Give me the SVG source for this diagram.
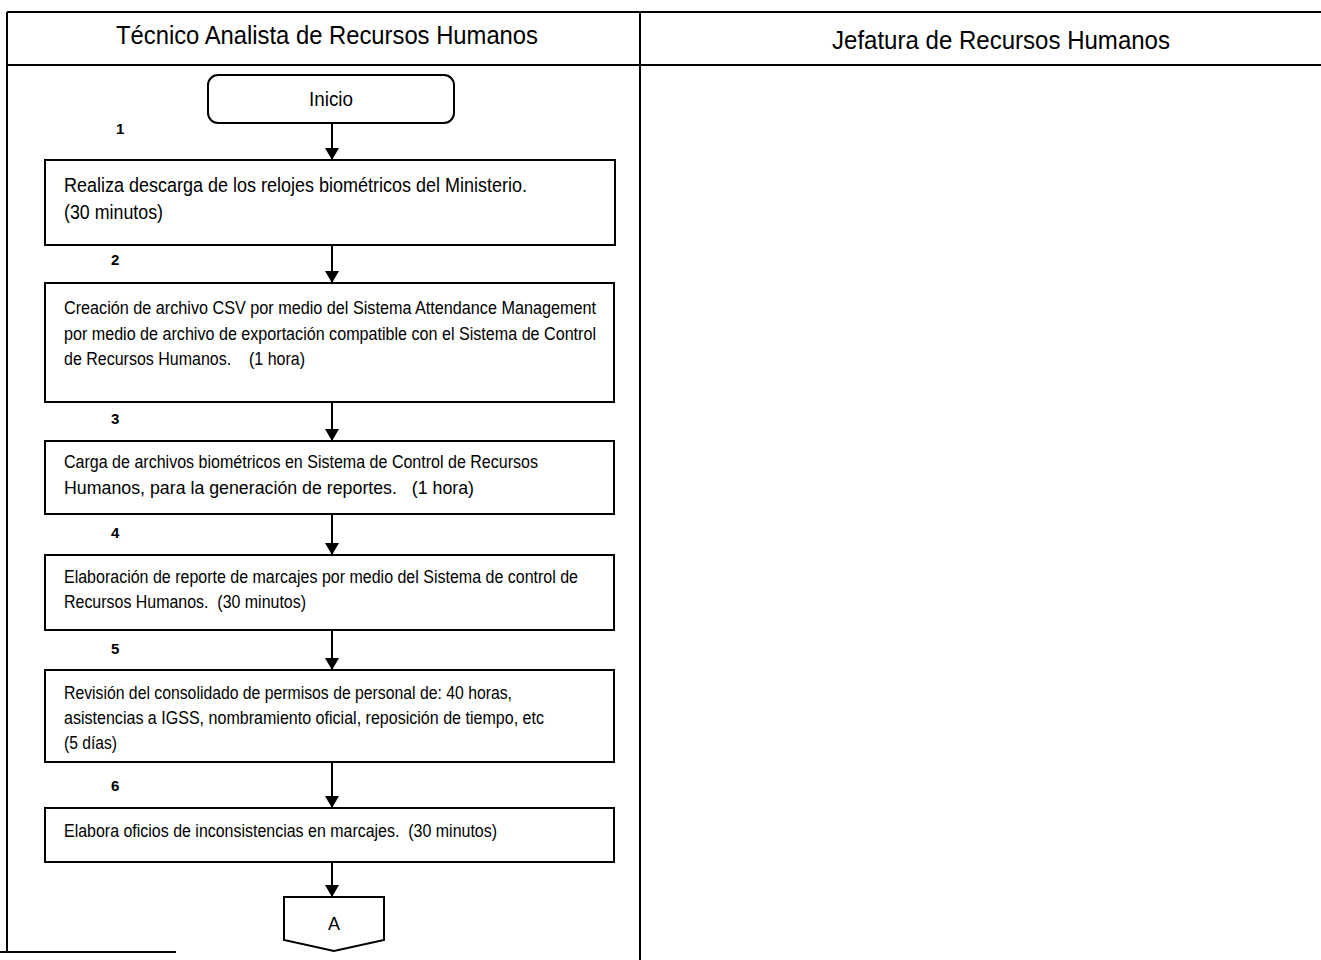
<svg xmlns="http://www.w3.org/2000/svg" width="1321" height="960" viewBox="0 0 1321 960">
<style>
text{font-family:"Liberation Sans",Arial,sans-serif;fill:#000;white-space:pre}
.hd{font-size:25px;text-anchor:middle}
.t{font-size:17.5px}
.t1{font-size:19.5px}
.n{font-size:15px;font-weight:bold}
.box{fill:#fff;stroke:#000;stroke-width:2}
.ln{stroke:#000;stroke-width:2;fill:none}
</style>
<defs>
<marker id="ah" viewBox="0 0 12 14" refX="12" refY="7" markerWidth="12" markerHeight="14" markerUnits="userSpaceOnUse" orient="auto"><path d="M0,0 L12,7 L0,14 Z" fill="#000"/></marker>
</defs>
<rect width="1321" height="960" fill="#fff"/>
<g id="frame">
<line class="ln" x1="7" y1="12" x2="1321" y2="12"/>
<line class="ln" x1="7" y1="65" x2="1321" y2="65"/>
<line class="ln" x1="7" y1="12" x2="7" y2="952"/>
<line class="ln" x1="640" y1="12" x2="640" y2="960"/>
<line class="ln" x1="0" y1="952" x2="176" y2="952"/>
<text class="hd" x="327" y="44" textLength="422" lengthAdjust="spacingAndGlyphs">Técnico Analista de Recursos Humanos</text>
<text class="hd" x="1001" y="49" textLength="338" lengthAdjust="spacingAndGlyphs">Jefatura de Recursos Humanos</text>
</g>
<g id="connectors">
<line class="ln" x1="332" y1="123" x2="332" y2="160" marker-end="url(#ah)"/>
<line class="ln" x1="332" y1="245" x2="332" y2="283" marker-end="url(#ah)"/>
<line class="ln" x1="332" y1="402" x2="332" y2="441" marker-end="url(#ah)"/>
<line class="ln" x1="332" y1="514" x2="332" y2="555" marker-end="url(#ah)"/>
<line class="ln" x1="332" y1="630" x2="332" y2="670" marker-end="url(#ah)"/>
<line class="ln" x1="332" y1="762" x2="332" y2="808" marker-end="url(#ah)"/>
<line class="ln" x1="332" y1="862" x2="332" y2="897" marker-end="url(#ah)"/>
</g>
<g id="labels">
<text class="n" x="116" y="134">1</text>
<text class="n" x="111" y="265">2</text>
<text class="n" x="111" y="424">3</text>
<text class="n" x="111" y="538">4</text>
<text class="n" x="111" y="654">5</text>
<text class="n" x="111" y="791">6</text>
</g>
<g id="inicio">
<rect class="box" x="208" y="75" width="246" height="48" rx="10"/>
<text x="331" y="106" font-size="20" text-anchor="middle" textLength="44" lengthAdjust="spacingAndGlyphs">Inicio</text>
</g>
<g id="step1">
<rect class="box" x="45" y="160" width="570" height="85"/>
<text class="t1" x="64" y="192" textLength="463" lengthAdjust="spacingAndGlyphs">Realiza descarga de los relojes biométricos del Ministerio.</text>
<text class="t1" x="64" y="219" textLength="99" lengthAdjust="spacingAndGlyphs">(30 minutos)</text>
</g>
<g id="step2">
<rect class="box" x="45" y="283" width="569" height="119"/>
<text class="t" x="64" y="314" textLength="532" lengthAdjust="spacingAndGlyphs">Creación de archivo CSV por medio del Sistema Attendance Management</text>
<text class="t" x="64" y="340" textLength="532" lengthAdjust="spacingAndGlyphs">por medio de archivo de exportación compatible con el Sistema de Control</text>
<text class="t" x="64" y="365" textLength="241" lengthAdjust="spacingAndGlyphs">de Recursos Humanos.    (1 hora)</text>
</g>
<g id="step3">
<rect class="box" x="45" y="441" width="569" height="73"/>
<text class="t" x="64" y="468" textLength="474" lengthAdjust="spacingAndGlyphs">Carga de archivos biométricos en Sistema de Control de Recursos</text>
<text class="t" x="64" y="494" textLength="410" lengthAdjust="spacingAndGlyphs">Humanos, para la generación de reportes.   (1 hora)</text>
</g>
<g id="step4">
<rect class="box" x="45" y="555" width="569" height="75"/>
<text class="t" x="64" y="583" textLength="514" lengthAdjust="spacingAndGlyphs">Elaboración de reporte de marcajes por medio del Sistema de control de</text>
<text class="t" x="64" y="608" textLength="242" lengthAdjust="spacingAndGlyphs">Recursos Humanos.  (30 minutos)</text>
</g>
<g id="step5">
<rect class="box" x="45" y="670" width="569" height="92"/>
<text class="t" x="64" y="699" textLength="448" lengthAdjust="spacingAndGlyphs">Revisión del consolidado de permisos de personal de: 40 horas,</text>
<text class="t" x="64" y="724" textLength="480" lengthAdjust="spacingAndGlyphs">asistencias a IGSS, nombramiento oficial, reposición de tiempo, etc</text>
<text class="t" x="64" y="749" textLength="53" lengthAdjust="spacingAndGlyphs">(5 días)</text>
</g>
<g id="step6">
<rect class="box" x="45" y="808" width="569" height="54"/>
<text class="t" x="64" y="837" textLength="433" lengthAdjust="spacingAndGlyphs">Elabora oficios de inconsistencias en marcajes.  (30 minutos)</text>
</g>
<g id="connectorA">
<path class="box" d="M284,897 L384,897 L384,940 L334,951 L284,940 Z"/>
<text x="334" y="930" font-size="19" text-anchor="middle" textLength="12" lengthAdjust="spacingAndGlyphs">A</text>
</g>
</svg>
